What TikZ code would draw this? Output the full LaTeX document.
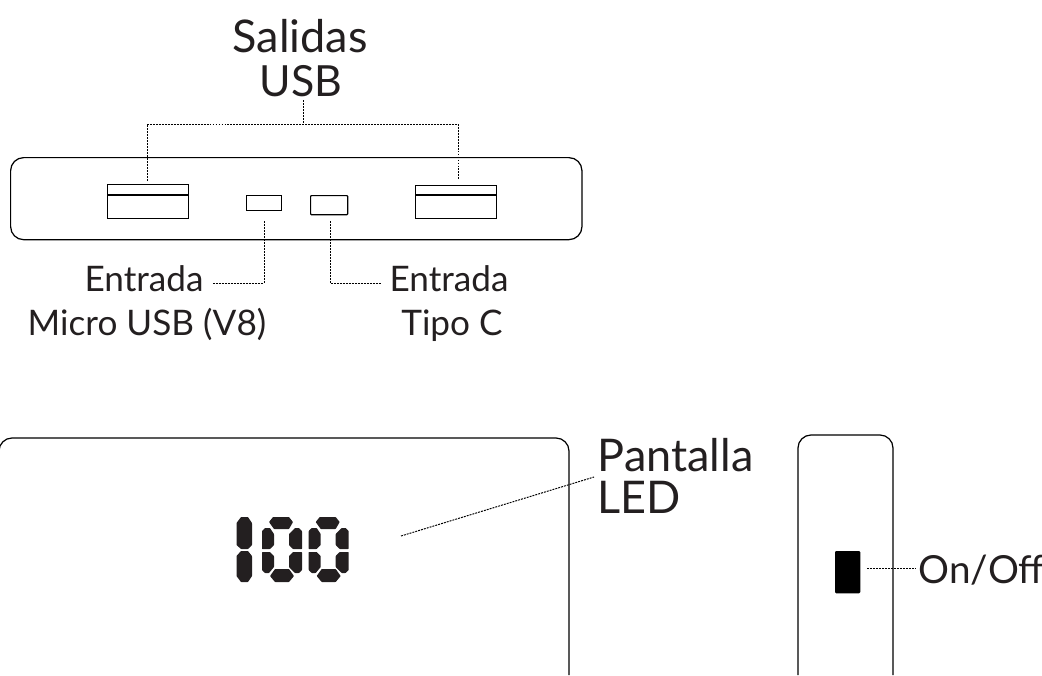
\documentclass[tikz,border=0pt]{standalone}
\usepackage{fontspec}
\setmainfont{Lato}
\definecolor{ledblack}{RGB}{35,31,32}

\begin{document}
\begin{tikzpicture}[
  x=0.01cm, y=-0.01cm,
  port/.style={rectangle, draw=black, line width=0.35pt, inner sep=0pt, anchor=north west},
  body/.style={draw=black, line width=0.35pt, rounded corners=0.13cm},
  leader/.style={draw=black, line width=0.28pt, dash pattern=on 0.55pt off 0.3pt},
  biglabel/.style={font=\fontsize{12.8}{14}\selectfont, text=ledblack, inner sep=0pt, anchor=base},
  smalllabel/.style={font=\fontsize{10}{11}\selectfont, text=ledblack, inner sep=0pt, anchor=base},
  segment/.style={fill=ledblack, draw=none, rounded corners=0.005cm}
]
\useasboundingbox (0,0) rectangle (1042,675);

% Front of the battery
\node[port, body, minimum width=5.71cm, minimum height=0.82cm] (front) at (10,157) {};
\node[port, minimum width=0.81cm, minimum height=0.34cm] (usba) at (107,184) {};
\node[port, minimum width=0.81cm, minimum height=0.33cm] (usbb) at (415,185) {};
\node[port, minimum width=0.35cm, minimum height=0.15cm] (micro) at (246,195) {};
\node[port, rounded corners=0.008cm, minimum width=0.37cm, minimum height=0.19cm] (tipoc) at (310,195) {};
\draw[line width=0.35pt] (usba.west |- 0,195) -- (usba.east |- 0,195);
\draw[line width=0.35pt] (usbb.west |- 0,195) -- (usbb.east |- 0,195);

% Labels of the front
\node[biglabel] (salidas) at (300,52) {Salidas};
\node[biglabel, font=\fontsize{12.2}{14}\selectfont] (usb) at (301,96) {USB};
\node[smalllabel] (entradaa) at (144,291) {Entrada};
\node[smalllabel] (microusb) at (147,335) {Micro USB (V8)};
\node[smalllabel] (entradab) at (449,291) {Entrada};
\node[smalllabel] (tipo) at (452,335) {Tipo C};

% Leaders of the front
\coordinate (usbend) at (303,100);
\coordinate (braceleft) at (147,124);
\coordinate (braceright) at (458,124);
\coordinate (bracemid) at (303,124);
\coordinate (usbaend) at (147,181);
\coordinate (usbbend) at (458,180);
\coordinate (microend) at (264,221);
\coordinate (microtail) at (213,283);
\coordinate (tipoend) at (330,221);
\coordinate (tipotail) at (381,283);
\draw[leader] (usbaend) -- (braceleft) -- (braceright) -- (usbbend);
\draw[leader] (usbend) -- (bracemid);
\draw[leader] (microend) -- (264,283) -- (microtail);
\draw[leader] (tipoend) -- (330,283) -- (tipotail);

% Display side
\draw[body] (569,675) -- (569,438) -- (-1,438) -- (-1,500);

% LED figures
\foreach \dx in {0,46.7} {
  \begin{scope}[xshift=\dx*0.01cm]
    \fill[segment] (269,522) -- (273,517) -- (289,517) -- (293,522) -- (289,529) -- (274,529) -- cycle;
    \fill[segment] (262,531) -- (265,528) -- (270,528) -- (274,534) -- (274,545) -- (270,549) -- (262,549) -- cycle;
    \fill[segment] (302,531) -- (299,528) -- (295,528) -- (289,534) -- (289,545) -- (293,549) -- (302,549) -- cycle;
    \fill[segment] (262,552) -- (270,552) -- (274,556) -- (274,567) -- (269,573) -- (265,573) -- (262,570) -- cycle;
    \fill[segment] (302,552) -- (293,552) -- (289,556) -- (289,567) -- (295,573) -- (299,573) -- (302,570) -- cycle;
    \fill[segment] (270,576) -- (275,569) -- (289,569) -- (294,576) -- (289,582) -- (275,582) -- cycle;
  \end{scope}
}
\fill[segment] (236.5,523) -- (241,517) -- (248,517) -- (252,523) -- (252,545) -- (248,549) -- (241,549) -- (236.5,545) -- cycle;
\fill[segment] (236.5,556) -- (241,551) -- (248,551) -- (252,556) -- (252,576) -- (248,582) -- (241,582) -- (236.5,576) -- cycle;

\node[biglabel, anchor=base west] (pantalla) at (597,471) {Pantalla};
\node[biglabel, anchor=base west] (led) at (597,513) {LED};
\coordinate (ledend) at (401,536);
\coordinate (ledtail) at (594,477);
\draw[leader] (ledend) -- (ledtail);

% Narrow side
\draw[body] (798,675) -- (798,435) -- (893,435) -- (893,675);
\node[port, fill=black, rounded corners=0.008cm, minimum width=0.24cm, minimum height=0.41cm] (switch) at (835,551) {};
\node[biglabel, anchor=base west, font=\fontsize{11}{13}\selectfont] (onoff) at (918,583) {On/Off};
\coordinate (switchend) at (867,568);
\coordinate (switchtail) at (915,568);
\draw[leader] (switchend) -- (switchtail);

\end{tikzpicture}
\end{document}
